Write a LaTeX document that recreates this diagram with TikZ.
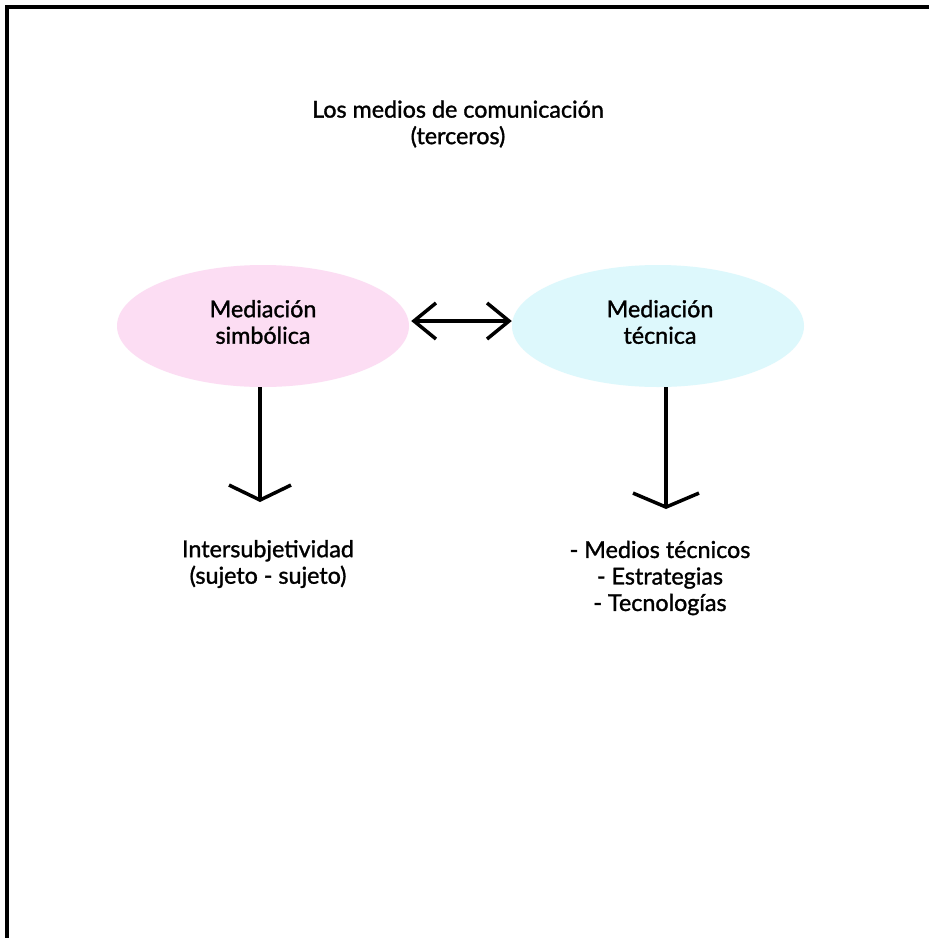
\documentclass[tikz,border=0pt]{standalone}
\usepackage{fontspec}
\setmainfont[FakeBold=1.3]{Lato}
\usetikzlibrary{arrows.meta,shapes.geometric}
\definecolor{pinkfill}{HTML}{FCDDF3}
\definecolor{bluefill}{HTML}{DDF8FC}
\tikzset{
  lbl/.style={align=center, font=\fontsize{23.3}{26.5}\selectfont, inner sep=0pt, text=black},
  bubble/.style={ellipse, minimum width=292pt, minimum height=122pt, inner sep=0pt},
  conn/.style={line width=3.5pt, black},
  sidetip/.tip={Straight Barb[length=22pt, width=36pt, line width=3.5pt]},
}
\begin{document}
\begin{tikzpicture}[x=1pt, y=-1pt]
\useasboundingbox (0,0) rectangle (929,938);
\fill[white] (0,0) rectangle (929,938);
% frame
\draw[line width=4pt] (7,938) -- (7,7) -- (929,7);
% title
\node[lbl] (title) at (458,124) {Los medios de comunicación\\(terceros)};
% ellipses
\node[bubble, fill=pinkfill] (simb) at (263,326) {};
\node[lbl] (simbt) at (263,322) {Mediación\\simbólica};
\node[bubble, fill=bluefill] (tec) at (658,326) {};
\node[lbl] (tect) at (660,322) {Mediación\\técnica};
% double arrow
\coordinate (da) at ([shift={(2,-5)}]simb.east);
\coordinate (db) at ([shift={(0,-5)}]tec.west);
\draw[conn, sidetip-sidetip] (da) -- (db);
% down arrows
\coordinate (ls) at (260,387);
\coordinate (ld) at (260,502);
\coordinate (rs) at (666,387);
\coordinate (rd) at (666,509);
\draw[conn, -{Straight Barb[length=15pt, width=62pt, line width=3.5pt]}] (ls) -- (ld);
\draw[conn, -{Straight Barb[length=14pt, width=66pt, line width=3.5pt]}] (rs) -- (rd);
% results
\node[lbl] (inter) at (268,564) {Intersubjetividad\\(sujeto - sujeto)};
\node[lbl] (medios) at (660,578) {- Medios técnicos\\- Estrategias\\- Tecnologías};
\end{tikzpicture}
\end{document}
